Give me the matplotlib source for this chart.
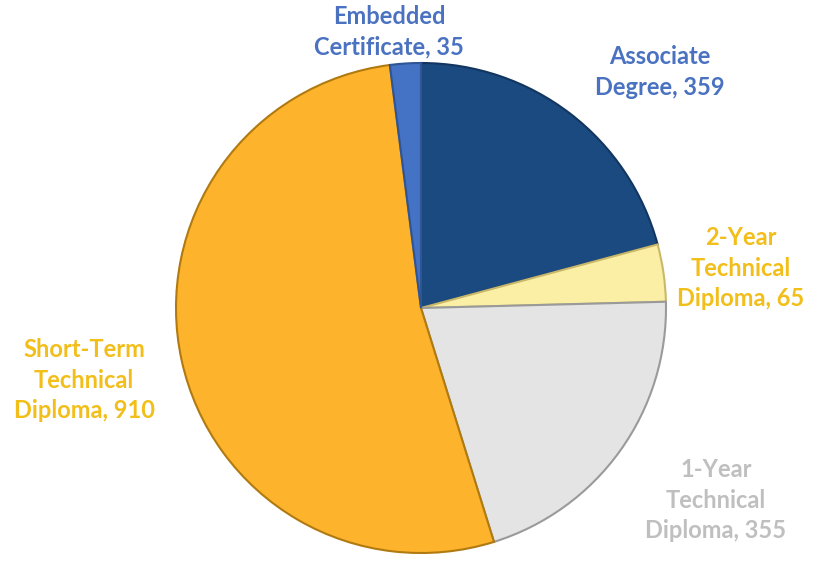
import matplotlib.pyplot as plt

# Datos del gráfico
categorias = ['Associate\nDegree', '2-Year\nTechnical\nDiploma', '1-Year\nTechnical\nDiploma',
              'Short-Term\nTechnical\nDiploma', 'Embedded\nCertificate']
valores = [359, 65, 355, 910, 35]
colores = ['#1B4A80', '#FBEFA6', '#E4E4E4', '#FDB42C', '#4472C4']
bordes = ['#123660', '#C9B86A', '#9A9A9A', '#B07A10', '#2F5597']
colores_etiqueta = ['#4A72C0', '#F2BE1A', '#BFBFBF', '#F2BE1A', '#4A72C0']

# posiciones de las etiquetas (pixeles de la figura, centro del texto)
pos_etiquetas = [(660, 72), (741, 268), (716, 500), (84, 380), (389, 32)]

W, H = 823, 561
fig = plt.figure(figsize=(W / 100, H / 100), dpi=100)
cx, cy, r = 421, 308, 245
ax = fig.add_axes([(cx - r) / W, (H - cy - r) / H, 2 * r / W, 2 * r / H])

cunas, _ = ax.pie(valores, colors=colores, startangle=90, counterclock=False,
                  wedgeprops=dict(linewidth=1.5))
for c, b in zip(cunas, bordes):
    c.set_edgecolor(b)
ax.set_xlim(-1, 1)
ax.set_ylim(-1, 1)
ax.set_aspect('equal')
ax.axis('off')

for cat, val, col, (px, py) in zip(categorias, valores, colores_etiqueta, pos_etiquetas):
    fig.text(px / W, 1 - py / H, f'{cat}, {val}', ha='center', va='center',
             color=col, fontsize=17, fontweight='bold', family='Lato', linespacing=1.4)

fig.savefig('out.png', dpi=100)
